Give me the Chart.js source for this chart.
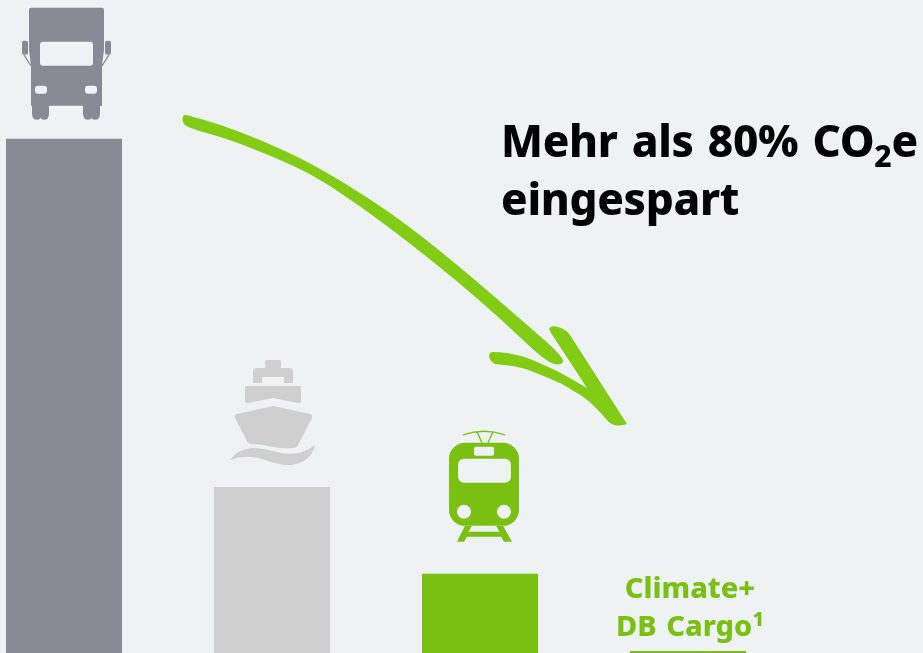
<!DOCTYPE html>
<html><head><meta charset="utf-8">
<style>
html,body{margin:0;padding:0;background:#eef2f3;overflow:hidden;width:923px;height:653px}
#wrap{position:relative;width:923px;height:653px;overflow:hidden}
canvas{position:absolute;left:-40px;top:0}
.t{position:absolute;font-family:"Noto Sans",sans-serif;font-weight:800;white-space:nowrap}
#title{left:501px;top:111px;font-size:44px;line-height:58px;color:#000;letter-spacing:-0.3px;word-spacing:3px}
#title sub{font-size:30px;line-height:0;vertical-align:-10px}
#label{left:590px;width:200px;top:568px;text-align:center;font-size:29px;line-height:38px;color:#7ac013;word-spacing:2px}
#label sup{font-size:20px;line-height:0;vertical-align:10px}
</style></head>
<body>
<div id="wrap">
<canvas id="c" width="963" height="653"></canvas>
<div class="t" id="title">Mehr als 80% CO<sub>2</sub>e<br>eingespart</div>
<div class="t" id="label">Climate+<br>DB Cargo<sup>1</sup></div>
</div>
<script src="https://cdn.jsdelivr.net/npm/chart.js@4"></script>
<script>
const categories = ["Lkw", "Schiff", "Bahn", "Climate+ DB Cargo"];
const emissions = [100, 32.3, 15.4, 0.4];
const barColors = ["#888b96", "#cfcfcf", "#7ac013", "#7ac013"];
const axisMax = 127;

const GRAY = "#888b96", LIGHT = "#cfcfcf", GREEN = "#7ac013", ARROW = "#82cc15", BG = "#eef2f3";

function rr(ctx,x0,y0,x1,y1,r){ctx.beginPath();ctx.roundRect(x0,y0,x1-x0,y1-y0,r);ctx.fill();}

const icons = [
 function truck(ctx){ // origin: bar 0 centre x=64, top y=139
  ctx.fillStyle=GRAY;
  ctx.fill(new Path2D("M31 8 H102 Q104 8 104 10 V50 L102 66 V106 H100 V114 Q100 120 95 120 Q92 120 91.5 118 Q91 120 88 120 Q83 120 83 114 V106 H49 V114 Q49 120 44 120 Q41 120 40.5 118 Q40 120 37 120 Q32 120 32 114 V106 H31 V66 L29 50 V10 Q29 8 31 8 Z"));
  rr(ctx,22,41,28,55,2); rr(ctx,105,41,111,55,2);
  ctx.strokeStyle=GRAY;ctx.lineWidth=1.2;
  ctx.beginPath();ctx.moveTo(24,55);ctx.lineTo(31,66);ctx.moveTo(109,55);ctx.lineTo(102,66);ctx.stroke();
  ctx.fillStyle=BG;
  rr(ctx,40,42,93,66,3); rr(ctx,35,86,47,94,3); rr(ctx,85,86,97,94,3);
 },
 function ship(ctx){ // bar 1 centre x=272, top y=487
  ctx.fillStyle=LIGHT;
  ctx.fill(new Path2D("M265 362 Q265 360 267 360 H279 Q281 360 281 362 V368 H289 Q293 368 293 372 V383 H284 V377 H262 V383 H253 V372 Q253 368 257 368 H265 Z"));
  ctx.fill(new Path2D("M247 386 H299 Q301 386 301 388 V401 Q301 403 298 403 L273 398 L248 403 Q245 403 245 401 V388 Q245 386 247 386 Z"));
  ctx.fill(new Path2D("M273 406 L310 414 Q313 415 312 418 L298 445 Q297 448 293 448 Q283 449 273 447 Q262 444 252 444 Q248 444 247 441 L235 418 Q234 415 237 414 Z"));
  ctx.fill(new Path2D("M230 460 Q238 449 252 448 Q262 448 277 452 Q298 458 315 445 Q311 463 290 465 Q278 465 262 459 Q245 454 230 460 Z"));
 },
 function train(ctx){ // bar 2 centre x=480, top y=574
  ctx.fillStyle=GREEN;
  ctx.beginPath();ctx.roundRect(449,443,70,83,16);ctx.fill();
  ctx.fill(new Path2D("M465 526 H472 L468.5 532 H499.5 L496 526 H503 L512 542 H504 L501 537 H467 L464 542 H457 Z"));
  ctx.strokeStyle=GREEN;ctx.lineWidth=1.4;
  ctx.beginPath();ctx.moveTo(463,435);ctx.quadraticCurveTo(484,428,505,435);
  ctx.moveTo(477,432);ctx.lineTo(482,443);ctx.moveTo(493,432);ctx.lineTo(488,443);ctx.stroke();
  ctx.fillStyle=BG;
  rr(ctx,458,459,511,483,6); rr(ctx,474,447,494,456,2);
  ctx.beginPath();ctx.arc(464,512,7,0,7);ctx.arc(504,512,7,0,7);ctx.fill();
 }
];
const iconOrigins=[[64,139],[272,487],[480,574]];

function smoothClosed(ctx,pts){
 const mid=(a,b)=>[(a[0]+b[0])/2,(a[1]+b[1])/2];
 const n=pts.length,s=mid(pts[n-1],pts[0]);
 ctx.beginPath();ctx.moveTo(s[0],s[1]);
 pts.forEach((p,i)=>{const m=mid(p,pts[(i+1)%n]);ctx.quadraticCurveTo(p[0],p[1],m[0],m[1]);});
 ctx.closePath();ctx.fill();
}
const shaftOutline=[[183,114],[190,116],[225,126],[275,146],[318,167],[370,199],[410,227],[460,267],[518,317],[565,358],[561,366],[545,361],[503,321],[457,281],[407,241],[360,206],[315,176],[272,156],[225,138],[195,130],[182,124]];

const decor = {
 id:"decor",
 afterDatasetsDraw(chart){
  const ctx=chart.ctx, bars=chart.getDatasetMeta(0).data;
  icons.forEach((draw,i)=>{
   ctx.save();
   ctx.translate(bars[i].x-iconOrigins[i][0], bars[i].y-iconOrigins[i][1]);
   draw(ctx);
   ctx.restore();
  });
  ctx.save();
  ctx.translate(bars[0].x-64,0);
  ctx.fillStyle=ARROW;
  smoothClosed(ctx,shaftOutline);
  ctx.fill(new Path2D("M549 329 Q551 325 558 327 Q566 329 570 335 L627 424 Q617 427 612 424 Q608 422 606 419 Q601 413 596 408 Q589 401 582 396 Q572 390 562 384 Q549 378 536 373 Q525 368 513 366 Q504 365 495 364 Q489 361 489 355 Q490 352 492 352 Q500 352 507 353 Q519 355 530 359 Q544 365 557 371 Q572 379 587 388 L551 333 Z"));
  ctx.restore();
 }
};

new Chart(document.getElementById("c"),{
 type:"bar",
 data:{labels:categories,datasets:[{data:emissions,backgroundColor:barColors,borderWidth:0,categoryPercentage:1,barPercentage:116/208}]},
 options:{
  responsive:false,animation:false,
  layout:{padding:{left:0,right:131,top:0,bottom:0}},
  plugins:{legend:{display:false},tooltip:{enabled:false}},
  scales:{x:{display:false},y:{display:false,min:0,max:axisMax}}
 },
 plugins:[decor]
});
</script>
</body></html>
